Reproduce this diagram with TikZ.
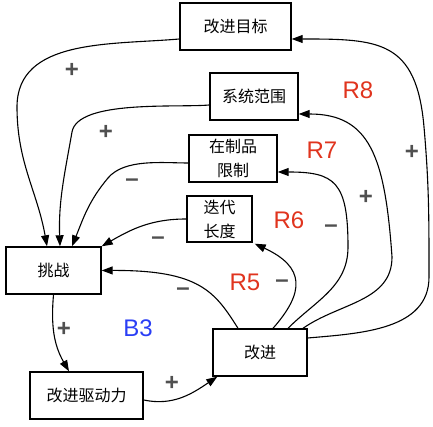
\documentclass[tikz,border=0pt]{standalone}
\usepackage{fontspec}
\usepackage{tikz}
\usetikzlibrary{arrows.meta}
\usetikzlibrary{shadows}
\usepackage{xcolor}
\newfontfamily\cjk{Noto Sans CJK SC}
\newfontfamily\lab{Liberation Sans}
\definecolor{ColR}{RGB}{224,52,30}
\definecolor{ColB}{RGB}{42,62,245}
\definecolor{ColS}{RGB}{80,80,80}
\tikzstyle{NodeLoop}=[rectangle,draw=black,fill=white,line width=1.4pt,inner sep=1pt,align=center,
minimum height=47pt,font=\cjk\fontsize{16}{24}\selectfont,
drop shadow={shadow xshift=0.6pt,shadow yshift=-0.8pt,opacity=0.35}]
\tikzstyle{EdgeLoop}=[line width=1.1pt,-{Triangle[length=11pt,width=8pt]}]
\tikzstyle{LoopName}=[font=\lab\fontsize{24}{24}\selectfont,inner sep=0pt]
\tikzstyle{LoopSign}=[ColS,font=\lab\bfseries\fontsize{24}{24}\selectfont,inner sep=0pt]

\begin{document}
\begin{tikzpicture}[x=1pt,y=1pt]
        \useasboundingbox (0,0) rectangle (433,427);
        \node[NodeLoop,minimum width=111pt](goal)at(235.5,400.5){改进目标};
        \node[NodeLoop,minimum width=88pt](scope)at(254,330.5){系统范围};
        \node[NodeLoop,minimum width=88pt](wip)at(233,268.5){在制品\\限制};
        \node[NodeLoop,minimum width=65pt,minimum height=46pt](iter)at(219.5,208){迭代\\长度};
        \node[NodeLoop,minimum width=95pt](chal)at(53.5,156.5){挑战};
        \node[NodeLoop,minimum width=94pt](impr)at(260,74.5){改进};
        \node[NodeLoop,minimum width=113pt](drive)at(86.5,31.5){改进驱动力};
        \draw[EdgeLoop]([yshift=-12.5pt]goal.west)to[out=185,in=90](17,320)to[out=-90,in=100]([xshift=-6.5pt]chal.north);
        \draw[EdgeLoop]([yshift=-8.5pt]scope.west)to[out=185,in=80,looseness=0.6](72,295)to[out=-100,in=92]([xshift=6.5pt]chal.north);
        \draw[EdgeLoop]([yshift=-4.5pt]wip.west)to[out=180,in=50,looseness=0.8](108,249)to[out=-130,in=68]([xshift=18.5pt]chal.north);
        \draw[EdgeLoop](iter.west)to[out=180,in=30](chal.north east);
        \draw[EdgeLoop]([xshift=-22pt]impr.north)..controls(215,135)and(200,157)..(chal.east);
        \draw[EdgeLoop]([xshift=13pt]impr.north)..controls(305,135)and(305,160)..([xshift=2pt,yshift=-1pt]iter.south east);
        \draw[EdgeLoop]([xshift=28pt]impr.north)to[out=45,in=-90](348,180)..controls(348,245)and(335,255)..([yshift=-13.5pt]wip.east);
        \draw[EdgeLoop]([xshift=43pt]impr.north)to[out=35,in=-90](392,170)..controls(385,270)and(370,313)..([yshift=-17.5pt]scope.east);
        \draw[EdgeLoop]([yshift=14.5pt]impr.east)to[out=5,in=-90](429,150)to[out=90,in=-85](424,300)to[out=95,in=0,looseness=1.4]([yshift=-12.5pt]goal.east);
        \draw[EdgeLoop](chal.south)to[out=-95,in=120]([xshift=-17.5pt]drive.north);
        \draw[EdgeLoop]([yshift=-4.5pt]drive.east)to[out=-12,in=214]([xshift=5pt]impr.south west);
        \node[LoopName,ColR](r8)at(358,337){R8};
        \node[LoopName,ColR](r7)at(322,277){R7};
        \node[LoopName,ColR](r6)at(289,207){R6};
        \node[LoopName,ColR](r5)at(245,145){R5};
        \node[LoopName,ColB](b3)at(138,99){B3};
        \node[LoopSign](sa)at(72,357){+};
        \node[LoopSign](sb)at(106,295){+};
        \node[LoopSign](sc)at(132,244){–};
        \node[LoopSign](sd)at(412,275){+};
        \node[LoopSign](se)at(366,230){+};
        \node[LoopSign](sf)at(331,198){–};
        \node[LoopSign](sg)at(158,186){–};
        \node[LoopSign](sh)at(282,143){–};
        \node[LoopSign](si)at(183,135){–};
        \node[LoopSign](sj)at(64,98){+};
        \node[LoopSign](sk)at(172,44){+};
    \end{tikzpicture}
\end{document}
